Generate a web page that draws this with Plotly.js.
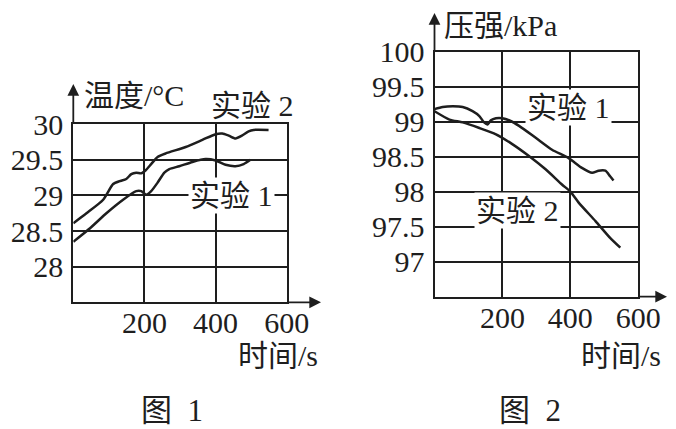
<!DOCTYPE html>
<html><head><meta charset="utf-8">
<script src="https://cdn.plot.ly/plotly-3.0.1.min.js"></script>
<style>html,body{margin:0;padding:0;background:#fff}#plot{width:676px;height:429px}</style>
</head><body><div id="plot"></div>
<script>
// Figure 1: temperature (°C) vs time (s)
const t1Exp1 = [0, 47, 93, 140, 177, 191, 205, 219, 237, 256, 270, 298, 335, 372, 400, 428, 456, 479, 498];
const temp1Exp1 = [28.35, 28.54, 28.75, 28.94, 29.06, 29.06, 29.01, 29.06, 29.18, 29.32, 29.37, 29.41, 29.47, 29.51, 29.49, 29.43, 29.41, 29.44, 29.50];
const t1Exp2 = [0, 37, 84, 112, 130, 149, 163, 177, 191, 203, 219, 237, 260, 316, 363, 400, 419, 437, 456, 474, 493, 507, 549];
const temp1Exp2 = [28.61, 28.75, 28.94, 29.16, 29.20, 29.23, 29.30, 29.32, 29.31, 29.35, 29.44, 29.54, 29.59, 29.68, 29.78, 29.86, 29.87, 29.84, 29.80, 29.84, 29.90, 29.92, 29.92];
// Figure 2: pressure (kPa) vs time (s)
const t2Exp1 = [0, 24, 54, 83, 112, 132, 146, 156, 166, 181, 200, 224, 249, 298, 346, 395, 434, 464, 483, 503, 517, 527];
const pres2Exp1 = [99.18, 99.21, 99.22, 99.21, 99.15, 99.08, 98.99, 98.96, 99.02, 99.05, 99.05, 99.01, 98.94, 98.77, 98.60, 98.48, 98.34, 98.27, 98.30, 98.30, 98.22, 98.16];
const t2Exp2 = [0, 44, 83, 132, 181, 229, 278, 327, 376, 400, 425, 474, 517, 547];
const pres2Exp2 = [99.15, 99.03, 98.99, 98.91, 98.82, 98.68, 98.51, 98.32, 98.10, 98.00, 97.84, 97.58, 97.34, 97.20];

const xTicks = [200, 400, 600];
const xTickText = ['200', '400', '600'];
const y1Ticks = [28, 28.5, 29, 29.5, 30];
const y1TickText = ['28', '28.5', '29', '29.5', '30'];
const y2Ticks = [97, 97.5, 98, 98.5, 99, 99.5, 100];
const y2TickText = ['97', '97.5', '98', '98.5', '99', '99.5', '100'];

const INK = '#1e1e1e';
const FONT = 'Liberation Serif, Noto Sans CJK SC, serif';
const line = {color: INK, width: 2.5, shape: 'spline', smoothing: 0.6};

const data = [
  {x: t1Exp1, y: temp1Exp1, xaxis: 'x', yaxis: 'y', mode: 'lines', line: line, hoverinfo: 'skip'},
  {x: t1Exp2, y: temp1Exp2, xaxis: 'x', yaxis: 'y', mode: 'lines', line: line, hoverinfo: 'skip'},
  {x: t2Exp1, y: pres2Exp1, xaxis: 'x2', yaxis: 'y2', mode: 'lines', line: line, hoverinfo: 'skip'},
  {x: t2Exp2, y: pres2Exp2, xaxis: 'x2', yaxis: 'y2', mode: 'lines', line: line, hoverinfo: 'skip'}
];

const W = 676, H = 429;
const px = v => v / W;
const py = v => 1 - v / H;

function xAx(dom, anchor) {
  return {domain: dom, anchor: anchor, range: [0, 600], tickvals: xTicks, ticktext: xTickText,
    showgrid: true, gridcolor: INK, gridwidth: 2, showline: true, linecolor: INK, linewidth: 2,
    mirror: true, zeroline: false, ticks: '', ticklabelstandoff: -7,
    tickfont: {family: FONT, size: 30, color: INK}, fixedrange: true};
}
function yAx(dom, anchor, range, tv, tt) {
  return {domain: dom, anchor: anchor, range: range, tickvals: tv, ticktext: tt,
    showgrid: true, gridcolor: INK, gridwidth: 2, showline: true, linecolor: INK, linewidth: 2,
    mirror: true, zeroline: false, ticks: '', ticklabelstandoff: 2,
    tickfont: {family: FONT, size: 30, color: INK}, fixedrange: true};
}

const txt = (text, x, y, xa, bg, size) => ({text: text, x: px(x), y: py(y), xref: 'paper', yref: 'paper',
  xanchor: xa, yanchor: 'middle', showarrow: false, font: {family: FONT, size: size || 30, color: INK},
  bgcolor: bg ? '#ffffff' : 'rgba(0,0,0,0)', borderpad: 1});
const arrow = (x, y, ax, ay) => ({text: '', x: px(x), y: py(y), xref: 'paper', yref: 'paper',
  ax: ax, ay: ay, axref: 'pixel', ayref: 'pixel', showarrow: true, arrowhead: 2, arrowsize: 1.3,
  arrowwidth: 1.8, arrowcolor: INK, standoff: 0, startstandoff: 0});

const layout = {
  width: W, height: H, margin: {l: 0, r: 0, t: 0, b: 0}, showlegend: false,
  paper_bgcolor: '#fff', plot_bgcolor: '#fff',
  xaxis: xAx([px(73.3), px(286.7)], 'y'),
  yaxis: yAx([py(302.3), py(124.2)], 'x', [27.5, 30], y1Ticks, y1TickText),
  xaxis2: xAx([px(434.5), px(638.3)], 'y2'),
  yaxis2: yAx([py(296.7), py(51.7)], 'x2', [96.5, 100], y2Ticks, y2TickText),
  annotations: [
    arrow(321, 302.3, -34, 0),
    arrow(73.3, 84, 0, 40),
    arrow(667, 296.7, -29, 0),
    arrow(434.5, 13, 0, 39),
    txt('温度/°C', 82, 96, 'left', false),
    txt('时间/s', 236, 355, 'left', false),
    txt('实验 2', 252, 106, 'center', false),
    txt('实验 1', 232, 195, 'center', true),
    txt('压强/kPa', 442, 25, 'left', false),
    txt('时间/s', 579, 355, 'left', false),
    txt('实验 1', 568, 107, 'center', true),
    txt('实验 2', 517, 210, 'center', true),
    txt('图  1', 172, 410, 'center', false, 31),
    txt('图  2', 530, 410, 'center', false, 31)
  ]
};

Plotly.newPlot('plot', data, layout, {staticPlot: true, displayModeBar: false});
</script></body></html>
